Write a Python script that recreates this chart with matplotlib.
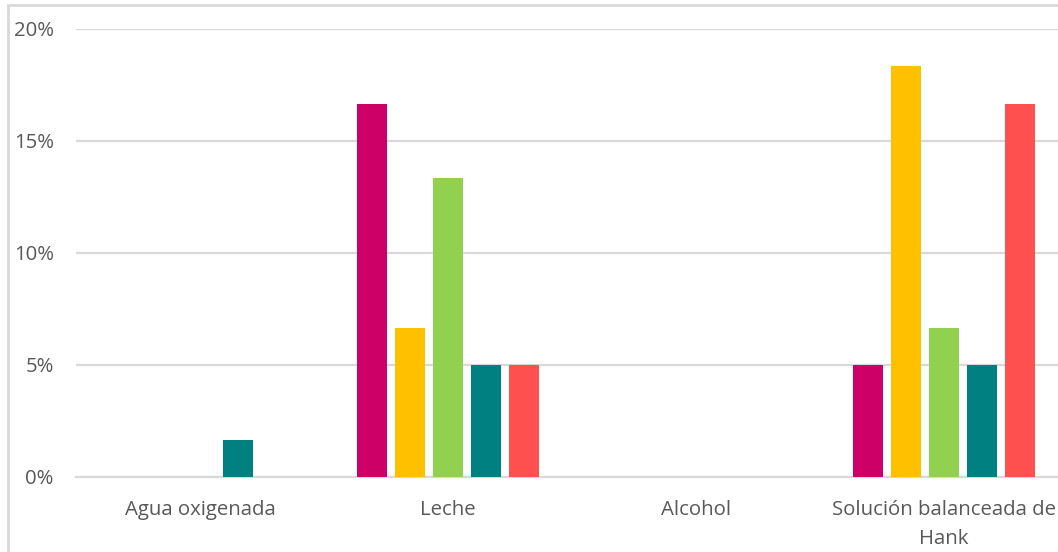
import numpy as np
import matplotlib
matplotlib.use("Agg")
import matplotlib.pyplot as plt
from matplotlib.patches import Rectangle
from matplotlib.ticker import PercentFormatter

# Share of responses per solution and series (percent)
categories = ["Agua oxigenada", "Leche", "Alcohol", "Solución balanceada de\nHank"]
serie_1 = [0.0, 16.67, 0.0, 5.0]
serie_2 = [0.0, 6.67, 0.0, 18.33]
serie_3 = [0.0, 13.33, 0.0, 6.67]
serie_4 = [1.67, 5.0, 0.0, 5.0]
serie_5 = [0.0, 5.0, 0.0, 16.67]
series = [serie_1, serie_2, serie_3, serie_4, serie_5]
colors = ["#CC0066", "#FFC000", "#92D050", "#008080", "#FF5050"]

plt.rcParams['font.family'] = ['Open Sans', 'DejaVu Sans']
text_color = "#595959"
grid_color = "#D9D9D9"

W, H = 1058, 552
fig = plt.figure(figsize=(W / 100, H / 100), dpi=100)
fig.patch.set_facecolor("white")

# chart frame, runs past the right and bottom edges
fig.patches.append(Rectangle((8 / W, -0.1), 1.2, (H - 5) / H + 0.1,
                             transform=fig.transFigure, fill=False,
                             edgecolor=grid_color, linewidth=2))

ax = fig.add_axes([76 / W, 75 / H, 992 / W, 448 / H])
x = np.arange(len(categories))
step = 38 / 248
width = 30 / 248
for i, (vals, c) in enumerate(zip(series, colors)):
    ax.bar(x + (i - 2) * step, vals, width=width, color=c, zorder=3)

ax.set_xlim(-0.5, len(categories) - 0.5)
ax.set_ylim(0, 20)
ax.set_yticks([0, 5, 10, 15, 20])
ax.yaxis.set_major_formatter(PercentFormatter(decimals=0))
ax.set_xticks(x)
ax.set_xticklabels(categories, linespacing=1.62)
ax.tick_params(axis='both', length=0, labelsize=14.7, colors=text_color)
ax.tick_params(axis='y', pad=16)
ax.tick_params(axis='x', pad=16.5)

ax.grid(axis='y', color=grid_color, linewidth=1.6, zorder=0)
ax.set_axisbelow(True)
for s in ["left", "right", "top"]:
    ax.spines[s].set_visible(False)
ax.spines["bottom"].set_color(grid_color)
ax.spines["bottom"].set_linewidth(1.6)

fig.savefig("out.png", dpi=100)
